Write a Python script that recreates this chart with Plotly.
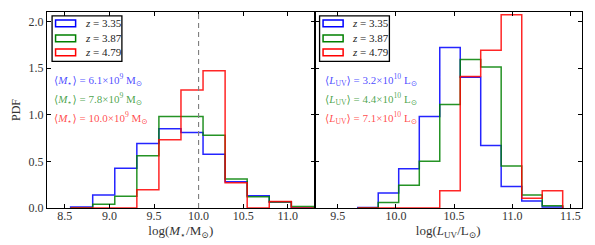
import plotly.graph_objects as go
from plotly.subplots import make_subplots

# ---------------- data ----------------
redshifts = ["3.35", "3.87", "4.79"]
colors = ["#0000ff", "#008000", "#ff0000"]
text_colors = ["rgba(0,0,255,0.72)", "rgba(0,128,0,0.72)", "rgba(255,0,0,0.72)"]

mass_edges = [8.565, 8.8125, 9.06, 9.3075, 9.555, 9.8025, 10.05, 10.2975,
              10.545, 10.7925, 11.04, 11.2875]
mass_pdf_z335 = [0.01, 0.14, 0.425, 0.69, 0.85, 0.81, 0.575, 0.28, 0.13, 0.065, 0.0]
mass_pdf_z387 = [0.0, 0.04, 0.125, 0.56, 0.98, 0.98, 0.78, 0.31, 0.12, 0.065, 0.015]
mass_pdf_z479 = [0.0, 0.0, 0.0, 0.195, 0.73, 1.265, 1.47, 0.27, 0.0, 0.07, 0.0]

luv_edges = [9.672, 9.848, 10.024, 10.201, 10.377, 10.553, 10.729, 10.905,
             11.082, 11.258, 11.434]
luv_pdf_z335 = [0.005, 0.16, 0.42, 0.98, 1.72, 1.40, 0.67, 0.23, 0.075, 0.01]
luv_pdf_z387 = [0.0, 0.06, 0.245, 0.50, 1.11, 1.59, 1.51, 0.45, 0.14, 0.025]
luv_pdf_z479 = [0.0, 0.0, 0.0, 0.0, 0.185, 1.41, 1.69, 2.07, 0.104, 0.185]

mean_mass = ["6.1", "7.8", "10.0"]    # x 10^9 Msun
mean_luv = ["3.2", "4.4", "7.1"]      # x 10^10 Lsun
mass_ref_line = 10.0

x1_ticks = [8.5, 9.0, 9.5, 10.0, 10.5, 11.0]
x2_ticks = [9.5, 10.0, 10.5, 11.0, 11.5]
y_ticks = [0.0, 0.5, 1.0, 1.5, 2.0]

FONT = "Liberation Serif, DejaVu Serif, serif"

fig = make_subplots(rows=1, cols=2, shared_yaxes=True, horizontal_spacing=0)


def step_xy(edges, heights):
    xs = [edges[0]] + list(edges)
    ys = [0.0] + list(heights) + [0.0]
    return xs, ys


mass_sets = [mass_pdf_z335, mass_pdf_z387, mass_pdf_z479]
luv_sets = [luv_pdf_z335, luv_pdf_z387, luv_pdf_z479]

for i in range(3):
    xs, ys = step_xy(mass_edges, mass_sets[i])
    fig.add_trace(go.Scatter(x=xs, y=ys, mode="lines", line_shape="hv",
                             line=dict(color=colors[i], width=1.5),
                             opacity=0.85, showlegend=False,
                             hoverinfo="skip"), row=1, col=1)
    xs, ys = step_xy(luv_edges, luv_sets[i])
    fig.add_trace(go.Scatter(x=xs, y=ys, mode="lines", line_shape="hv",
                             line=dict(color=colors[i], width=1.5),
                             opacity=0.85, showlegend=False,
                             hoverinfo="skip"), row=1, col=2)

# dashed reference line
fig.add_shape(type="line", xref="x", yref="y domain", x0=mass_ref_line,
              x1=mass_ref_line, y0=0, y1=1,
              line=dict(color="#808080", width=1.1, dash="5px,4px"))

# manual legends (matplotlib style boxes)
for xr, yr in [("x domain", "y domain"), ("x2 domain", "y2 domain")]:
    fig.add_shape(type="rect", xref=xr, yref=yr, x0=0.019, x1=0.28,
                  y0=0.748, y1=0.98, line=dict(color="black", width=1.3),
                  fillcolor="white", layer="above")
    rows = [(0.925, 0.959), (0.848, 0.883), (0.777, 0.811)]
    for i in range(3):
        y0, y1 = rows[i]
        fig.add_shape(type="rect", xref=xr, yref=yr, x0=0.032, x1=0.107,
                      y0=y0, y1=y1, line=dict(color=colors[i], width=1.5),
                      fillcolor="rgba(0,0,0,0)", layer="above")
        fig.add_annotation(xref=xr, yref=yr, x=0.134, y=(y0 + y1) / 2,
                           xanchor="left", yanchor="middle", showarrow=False,
                           text="<i>z</i> = " + redshifts[i],
                           font=dict(family=FONT, size=11, color="#222"))

ann_y = [0.655, 0.555, 0.458]
for i in range(3):
    fig.add_annotation(xref="x domain", yref="y domain", x=0.02, y=ann_y[i],
                       xanchor="left", yanchor="middle", showarrow=False,
                       text="⟨<i>M</i><sub>⋆</sub>⟩ = " + mean_mass[i]
                            + "×10<sup>9</sup> M<sub>⊙</sub>",
                       font=dict(family=FONT, size=11, color=text_colors[i]))
    fig.add_annotation(xref="x2 domain", yref="y2 domain", x=0.031, y=ann_y[i],
                       xanchor="left", yanchor="middle", showarrow=False,
                       text="⟨<i>L</i><sub>UV</sub>⟩ = " + mean_luv[i]
                            + "×10<sup>10</sup> L<sub>⊙</sub>",
                       font=dict(family=FONT, size=11, color=text_colors[i]))

axis_common = dict(showline=True, linecolor="black", linewidth=1,
                   mirror="ticks", ticks="inside", ticklen=4, tickwidth=1,
                   tickcolor="black", showgrid=False, zeroline=False,
                   automargin=False,
                   tickfont=dict(family=FONT, size=12, color="#333"))

fig.update_xaxes(range=[8.3, 11.3], tickvals=x1_ticks,
                 ticktext=["%.1f" % v for v in x1_ticks],
                 ticklabelstandoff=-3,
                 title=dict(text="log(<i>M</i><sub>⋆</sub>/M<sub>⊙</sub>)",
                            font=dict(family=FONT, size=13, color="#333"),
                            standoff=0),
                 row=1, col=1, **axis_common)
fig.update_xaxes(range=[9.3, 11.6], tickvals=x2_ticks,
                 ticktext=["%.1f" % v for v in x2_ticks],
                 ticklabelstandoff=-3,
                 title=dict(text="log(<i>L</i><sub>UV</sub>/L<sub>⊙</sub>)",
                            font=dict(family=FONT, size=13, color="#333"),
                            standoff=0),
                 row=1, col=2, **axis_common)
fig.update_yaxes(range=[0, 2.1], tickvals=y_ticks,
                 ticktext=["%.1f" % v for v in y_ticks],
                 title=dict(text="PDF", font=dict(family=FONT, size=12, color="#333"),
                            standoff=5),
                 row=1, col=1, **axis_common)
fig.update_yaxes(range=[0, 2.1], tickvals=y_ticks, showticklabels=False,
                 row=1, col=2, **axis_common)

# the page body adds an 8px offset; margins compensate so the plot area
# lands where the reference has it
fig.update_layout(template="none", width=595, height=245,
                  margin=dict(l=39, r=21, t=4, b=45),
                  paper_bgcolor="white", plot_bgcolor="white",
                  showlegend=False)

fig.write_html("out.html")
